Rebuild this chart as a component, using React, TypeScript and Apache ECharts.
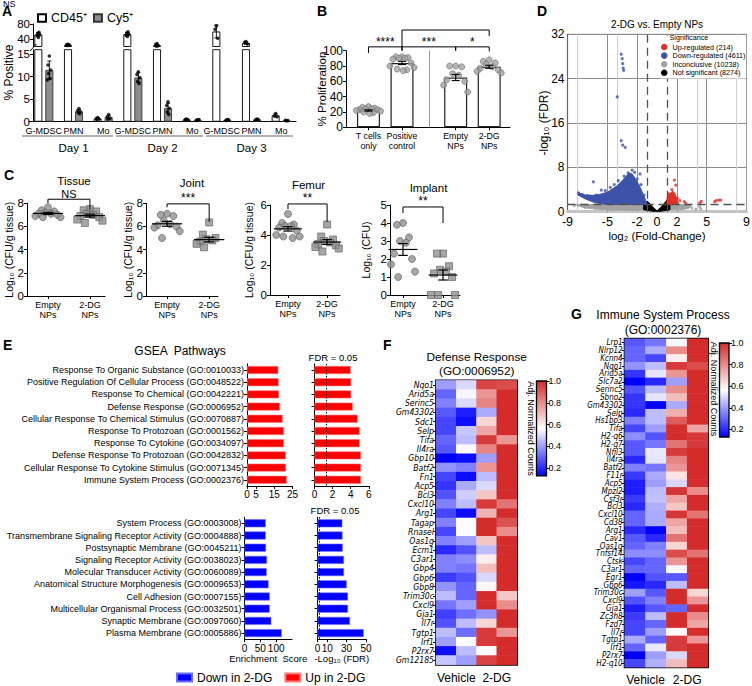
import React, { useEffect, useRef } from 'react';
import * as echarts from 'echarts';

const FONT = '"Liberation Sans", Arial, Helvetica, sans-serif';
const NARROW = '"Liberation Sans Narrow", "Arial Narrow", "DejaVu Sans Condensed", "Liberation Sans", Arial, sans-serif';
const RED = '#d42b2b';
const BLUE = '#0000ff';

/* ---------------- Panel A ---------------- */
const aCells = ['G-MDSC', 'PMN', 'Mo', 'G-MDSC', 'PMN', 'Mo', 'G-MDSC', 'PMN', 'Mo'];
const aDays = ['Day 1', 'Day 2', 'Day 3'];
const aCd45 = [52, 24, 0.7, 53, 23, 0.5, 60, 29, 1.4];
const aCy5 = [11.5, 2.3, 1.0, 9.8, 3.0, 0.4, 0.4, 0.5, 0.25];
const aCd45Dots = [
  [44, 49, 52, 55, 58],
  [26, 25, 24, 23],
  [0.9, 0.7, 0.6, 0.5],
  [47, 50, 53, 56, 59],
  [28, 25, 22, 21],
  [0.6, 0.5, 0.4, 0.5],
  [75, 66, 42],
  [33, 31, 27],
  [1.8, 1.3, 1.1],
];
const aCy5Dots = [
  [14.6, 12.6, 11.5, 10.7, 9.6, 9.3],
  [2.9, 2.5, 2.2, 2.0, 1.8],
  [1.6, 1.1, 0.8, 0.6],
  [11.1, 10.5, 9.8, 9.0, 8.5],
  [4.4, 3.6, 3.0, 2.2, 1.6],
  [0.4, 0.3, 0.5],
  [0.5, 0.3, 0.4],
  [0.6, 0.4, 0.5],
  [0.2, 0.3, 0.25],
];
const aUpperTicks = [40, 80];
const aLowerTicks = [0, 5, 10, 15];

/* ---------------- Panel B ---------------- */
const bGroups = ['T cells\nonly', 'Positive\ncontrol', 'Empty\nNPs', '2-DG\nNPs'];
const bPos = [0, 1, 2.6, 3.6];
const bMeans = [22, 84, 65, 79];
const bDots = [
  [27, 26, 25, 24, 24, 23, 23, 22, 21, 20, 19, 18],
  [92, 92, 91, 90, 90, 89, 84, 80, 78, 76, 75, 74],
  [80, 80, 79, 70, 68, 62, 60, 55, 46],
  [88, 86, 84, 82, 79, 77, 75, 73, 71],
];
const bSigText = ['****', '***', '*', ''];
const bSigFrom = [0, 1, 2.6, 1];
const bSigTo = [1, 2.6, 3.6, 3.6];
const bSigY = [105, 105, 105, 127];
const bSigDropL = [97, 100, 100, 105];
const bSigDropR = [100, 100, 99, 119];

/* ---------------- Panel C ---------------- */
const cTitles = ['Tissue', 'Joint', 'Femur', 'Implant'];
const cGroups = ['Empty\nNPs', '2-DG\nNPs'];
const cYMax = [8, 8, 6, 5];
const cYInterval = [2, 2, 2, 1];
const cYNames = ['Log₁₀ (CFU/g tissue)', 'Log₁₀ (CFU/g tissue)', 'Log₁₀ (CFU/g tissue)', 'Log₁₀ (CFU)'];
const cEmpty = [
  [7.65, 7.4, 7.3, 7.2, 7.1, 7.1, 7.0, 6.9, 6.8, 6.8],
  [7.1, 7.0, 6.9, 6.5, 6.2, 6.1, 6.0, 5.9, 5.6, 5.0],
  [5.4, 4.8, 4.7, 4.6, 4.6, 4.5, 4.3, 4.0, 3.9, 3.9, 3.8],
  [4.0, 3.9, 3.2, 3.0, 2.9, 2.3, 2.0, 1.7, 1.3, 1.0],
];
const cDG = [
  [7.5, 7.4, 7.3, 7.1, 7.0, 6.9, 6.8, 6.6, 6.5, 6.3],
  [6.35, 5.3, 5.0, 4.9, 4.8, 4.7, 4.6, 4.5, 4.3, 4.2],
  [4.7, 3.9, 3.7, 3.6, 3.5, 3.4, 3.3, 3.2, 3.1, 2.9],
  [2.3, 2.3, 1.6, 1.4, 1.3, 1.2, 1.0, 0, 0, 0],
];
const cSig = ['NS', '***', '**', '**'];
const cSigTop = [8.35, 7.95, 6.07, 4.89];
const cSigDropL = [8.0, 7.65, 5.73, 4.55];
const cSigDropR = [7.45, 6.4, 4.87, 4.0];
const cSigTextY = [8.82, 8.45, 6.45, 5.2];

/* ---------------- Panel D ---------------- */
const dXTicks = [-9, -5, -2, 0, 2, 5, 9];
const dLegend = ['Up-regulated (214)', 'Down-regulated (4611)', 'Inconclusive (10238)', 'Not significant (8274)'];
const dDownPoly = [[-7.9, 3.4], [-7.2, 3.0], [-6.5, 2.95], [-5.8, 3.1], [-5.0, 3.5], [-4.5, 4.1], [-4.0, 4.7], [-3.5, 5.6], [-3.1, 6.4], [-2.8, 7.0], [-2.5, 6.8], [-2.2, 6.0], [-1.8, 4.8], [-1.5, 3.6], [-1.2, 2.3], [-1.0, 1.5], [-1.0, 1.3], [-5.0, 1.3], [-6.2, 1.6], [-7.2, 2.3], [-7.95, 3.0]];
const dDownPts = [[-3.6, 28.4], [-3.5, 27.6], [-3.45, 26.7], [-3.4, 25.9], [-3.35, 25.5], [-4.0, 20.7], [-3.6, 12.8], [-3.45, 12.0], [-3.2, 11.6], [-6.4, 5.4], [-2.5, 7.5], [-2.25, 7.1], [-1.7, 6.8], [-5.6, 3.9], [-5.2, 3.8], [-4.7, 4.4], [-4.3, 4.9], [-3.9, 5.6], [-3.3, 6.4], [-2.9, 7.0], [-2.0, 5.9], [-1.6, 4.9], [-7.9, 3.4], [-7.5, 3.1], [-7.0, 2.9], [-6.7, 2.8], [-6.1, 3.0], [-1.3, 3.0]];
const dUpPoly = [[1.0, 1.3], [1.0, 2.4], [1.15, 3.0], [1.35, 3.4], [1.6, 3.7], [1.8, 3.3], [1.95, 2.6], [2.1, 1.8], [2.2, 1.3]];
const dUpPts = [[1.75, 5.7], [1.9, 4.8], [1.5, 4.0], [2.3, 2.0], [2.75, 1.8], [2.9, 1.5], [4.3, 1.6], [4.45, 1.85], [5.8, 1.8], [5.95, 2.0], [6.2, 2.1], [6.4, 2.1], [2.05, 2.4], [1.2, 3.2]];
const dInconLeft = [[-7.9, 1.3], [-1.0, 1.3], [-1.0, 0.35], [-2.5, 0.25], [-4.5, 0.3], [-6.0, 0.45], [-7.2, 0.7], [-7.9, 1.0]];
const dInconRight = [[1.0, 1.3], [3.0, 1.3], [3.4, 1.1], [3.2, 0.6], [2.4, 0.35], [1.0, 0.3]];
const dInconPts = [[-8.3, 1.1], [-7.2, 0.8], [-6.2, 0.6], [-5.5, 0.5], [-4.6, 0.4], [2.8, 0.8], [3.2, 1.1], [3.5, 0.7], [4.3, 0.9], [4.4, 0.5], [3.9, 0.4], [-8.0, 1.25], [-7.6, 1.2]];
const dNotSigPoly = [[-1.35, 1.3], [-1.0, 1.9], [-0.7, 1.45], [-0.35, 0.75], [0, 0.15], [0.35, 0.75], [0.7, 1.45], [1.0, 2.1], [1.3, 1.35], [1.3, 0.35], [0.7, 0.15], [0, -0.1], [-0.7, 0.15], [-1.35, 0.35]];
const dGridX = [-8, -5, -4, -2, 2, 4, 5, 8];

/* ---------------- Panel E ---------------- */
const eUpTerms = ['Response To Organic Substance (GO:0010033)', 'Positive Regulation Of Cellular Process (GO:0048522)', 'Response To Chemical (GO:0042221)', 'Defense Response (GO:0006952)', 'Cellular Response To Chemical Stimulus (GO:0070887)', 'Response To Protozoan (GO:0001562)', 'Response To Cytokine (GO:0034097)', 'Defense Response To Protozoan (GO:0042832)', 'Cellular Response To Cytokine Stimulus (GO:0071345)', 'Immune System Process (GO:0002376)'];
const eUpScore = [17.2, 17.4, 17.6, 18.1, 19.6, 20.3, 20.3, 21.3, 21.4, 21.8];
const eUpFdr = [4.0, 4.05, 4.05, 4.22, 4.77, 4.99, 4.99, 5.14, 5.14, 5.14];
const eDownTerms = ['System Process (GO:0003008)', 'Transmembrane Signaling Receptor Activity (GO:0004888)', 'Postsynaptic Membrane (GO:0045211)', 'Signaling Receptor Activity (GO:0038023)', 'Molecular Transducer Activity (GO:0060089)', 'Anatomical Structure Morphogenesis (GO:0009653)', 'Cell Adhesion (GO:0007155)', 'Multicellular Organismal Process (GO:0032501)', 'Synaptic Membrane (GO:0097060)', 'Plasma Membrane (GO:0005886)'];
const eDownScore = [67, 67, 68, 71, 70, 76, 79.6, 79.6, 84.6, 117.5];
const eDownFdr = [25.6, 25.8, 26, 27.3, 27.3, 30.1, 31.4, 31.4, 33.5, 47.6];
const eUpScoreTicks = [0, 5, 15, 25];
const eDownScoreTicks = [0, 50, 100, 150];
const eDownFdrTicks = [0, 10, 30, 50];
const eFdrCut = 1.3;

/* ---------------- Panels F & G ---------------- */
const hmGroups = ['Vehicle', '2-DG'];
const hmCols = ['V1', 'V2', 'D1', 'D2'];
const cbTicks = [0.2, 0.4, 0.6, 0.8, 1.0];
const fRows = ['Nqo1', 'Arid5a', 'Serinc5', 'Gm43302', 'Sdc1', 'Selp', 'Tifa', 'Il4ra', 'Gbp10', 'Batf2', 'Fn1', 'Acp5', 'Bcl3', 'Cxcl10', 'Arg1', 'Tagap', 'Rnasel', 'Oas1g', 'Ecm1', 'C3ar1', 'Gbp4', 'Gbp6', 'Gbp8', 'Trim30c', 'Cxcl9', 'Gja1', 'Il7r', 'Tgtp1', 'Irf1', 'P2rx7', 'Gm12185'];
const fValues = [
  [0.4, 0.5, 0.95, 0.93], [0.3, 0.55, 0.78, 1.0], [0.35, 0.5, 0.82, 1.0], [0.28, 0.18, 0.42, 1.0],
  [0.25, 0.15, 0.65, 1.0], [0.25, 0.47, 0.75, 1.0], [0.3, 0.45, 0.97, 0.78], [0.28, 0.58, 0.82, 1.0],
  [0.12, 0.15, 0.4, 1.0], [0.38, 0.35, 0.78, 1.0], [0.25, 0.15, 0.45, 1.0], [0.22, 0.42, 0.5, 1.0],
  [0.27, 0.48, 0.68, 1.0], [0.35, 0.45, 0.97, 0.85], [0.25, 0.15, 0.72, 1.0], [0.35, 0.56, 1.0, 0.92],
  [0.25, 0.56, 1.0, 0.8], [0.35, 0.4, 0.68, 1.0], [0.2, 0.27, 0.45, 1.0], [0.35, 0.37, 0.6, 1.0],
  [0.35, 0.33, 0.7, 1.0], [0.23, 0.27, 0.5, 1.0], [0.38, 0.3, 0.58, 1.0], [0.45, 0.3, 1.0, 0.68],
  [0.33, 0.4, 1.0, 0.8], [0.24, 0.32, 0.38, 1.0], [0.27, 0.45, 0.65, 1.0], [0.45, 0.32, 0.97, 0.78],
  [0.4, 0.56, 0.97, 1.0], [0.15, 0.45, 0.56, 1.0], [0.47, 0.4, 0.95, 1.0],
];
const gRows = ['Lrp1', 'Nlrp12', 'Kcnn4', 'Nqo1', 'Arid5a', 'Slc7a2', 'Serinc5', 'Sbno2', 'Gm43302', 'Selp', 'Hs1bp3', 'Tifa', 'H2-q6', 'H2-q7', 'Nfil3', 'Il4ra', 'Batf2', 'F11r', 'Acp5', 'Mpzl2', 'Csf3r', 'Bcl3', 'Cxcl10', 'Cd38', 'Arg1', 'Cav1', 'Oas1g', 'Tnfsf14', 'Ctsk', 'C3ar1', 'Egr1', 'Gbp6', 'Trim30c', 'Cxcl9', 'Gja1', 'Zc3h8', 'Fzd7', 'Il7r', 'Tgtp1', 'Irf1', 'P2rx7', 'H2-q10'];
const gValues = [
  [0.28, 0.33, 0.55, 1.0], [0.3, 0.42, 0.8, 1.0], [0.3, 0.25, 0.6, 1.0], [0.38, 0.45, 0.97, 0.93],
  [0.22, 0.52, 0.78, 1.0], [0.12, 0.2, 0.4, 1.0], [0.27, 0.45, 0.8, 1.0], [0.22, 0.52, 0.7, 1.0],
  [0.22, 0.1, 0.42, 1.0], [0.2, 0.45, 0.73, 1.0], [0.35, 0.45, 0.9, 1.0], [0.25, 0.4, 1.0, 0.75],
  [0.37, 0.27, 1.0, 0.97], [0.28, 0.33, 0.85, 0.97], [0.28, 0.53, 0.97, 1.0], [0.2, 0.52, 0.82, 1.0],
  [0.35, 0.33, 0.78, 1.0], [0.23, 0.42, 0.62, 1.0], [0.18, 0.4, 0.5, 1.0], [0.18, 0.45, 0.98, 0.8],
  [0.23, 0.46, 0.75, 1.0], [0.2, 0.43, 0.68, 1.0], [0.3, 0.42, 0.98, 0.85], [0.3, 0.42, 0.75, 1.0],
  [0.2, 0.1, 0.7, 1.0], [0.28, 0.2, 0.85, 1.0], [0.3, 0.35, 0.65, 1.0], [0.37, 0.37, 0.93, 0.85],
  [0.25, 0.3, 0.78, 1.0], [0.3, 0.3, 0.55, 1.0], [0.1, 0.27, 0.28, 1.0], [0.17, 0.2, 0.45, 1.0],
  [0.4, 0.28, 1.0, 0.65], [0.27, 0.35, 1.0, 0.78], [0.18, 0.28, 0.3, 1.0], [0.23, 0.45, 1.0, 0.8],
  [0.25, 0.3, 1.0, 0.75], [0.25, 0.4, 0.58, 1.0], [0.42, 0.3, 0.97, 0.78], [0.3, 0.53, 0.97, 1.0],
  [0.1, 0.4, 0.5, 1.0], [0.25, 0.43, 0.7, 1.0],
];

/* ---------------- helpers ---------------- */
const mean = (a: number[]) => a.reduce((s, v) => s + v, 0) / a.length;
const sd = (a: number[]) => {
  if (a.length < 2) return 0;
  const m = mean(a);
  return Math.sqrt(a.reduce((s, v) => s + (v - m) ** 2, 0) / (a.length - 1));
};
const sem = (a: number[]) => sd(a) / Math.sqrt(a.length);
const SWARM = [0, -0.5, 0.5, -0.25, 0.25, -0.75, 0.75, -1, 1, -0.4, 0.4, 0.1];
const jit = (k: number, spread: number) => SWARM[k % SWARM.length] * spread;
const nearest = (arr: number[], v: number) => {
  let b = 0;
  arr.forEach((a, i) => { if (Math.abs(a - v) < Math.abs(arr[b] - v)) b = i; });
  return b;
};

const axLine = (color = '#000', width = 1) => ({ show: true, onZero: false, lineStyle: { color, width } });
const ticks = (len = 3, extra: any = {}) => ({ show: true, length: len, lineStyle: { color: '#000', width: 1 }, ...extra });
const lbl = (size: number, extra: any = {}) => ({ show: true, color: '#000', fontSize: size, fontFamily: FONT, ...extra });
const nameStyle = (size: number) => ({ fontSize: size, color: '#000', fontFamily: FONT });
const noSplit = { show: false };

const ST = (lw = 1, color = '#000') => ({ stroke: color, lineWidth: lw });
function errRender(cap: number, lw = 1) {
  return (params: any, api: any) => {
    const x = api.value(0), m = api.value(1), e = api.value(2);
    const lo = api.coord([x, m - e]);
    const hi = api.coord([x, m + e]);
    const c = api.coord([x + cap, m])[0] - api.coord([x, m])[0];
    return {
      type: 'group',
      children: [
        { type: 'line', shape: { x1: lo[0], y1: lo[1], x2: hi[0], y2: hi[1] }, style: ST(lw) },
        { type: 'line', shape: { x1: hi[0] - c, y1: hi[1], x2: hi[0] + c, y2: hi[1] }, style: ST(lw) },
        { type: 'line', shape: { x1: lo[0] - c, y1: lo[1], x2: lo[0] + c, y2: lo[1] }, style: ST(lw) },
      ],
    };
  };
}
function meanRender(half: number, cap: number, lw = 1.2) {
  return (params: any, api: any) => {
    const x = api.value(0), m = api.value(1), e = api.value(2);
    const c = api.coord([x, m]);
    const lo = api.coord([x, m - e]);
    const hi = api.coord([x, m + e]);
    const h = api.coord([x + half, m])[0] - c[0];
    const k = api.coord([x + cap, m])[0] - c[0];
    return {
      type: 'group',
      children: [
        { type: 'line', shape: { x1: c[0] - h, y1: c[1], x2: c[0] + h, y2: c[1] }, style: ST(lw) },
        { type: 'line', shape: { x1: lo[0], y1: lo[1], x2: hi[0], y2: hi[1] }, style: ST(lw) },
        { type: 'line', shape: { x1: hi[0] - k, y1: hi[1], x2: hi[0] + k, y2: hi[1] }, style: ST(lw) },
        { type: 'line', shape: { x1: lo[0] - k, y1: lo[1], x2: lo[0] + k, y2: lo[1] }, style: ST(lw) },
      ],
    };
  };
}
function polyRender(pts: number[][], fill: string) {
  return (params: any, api: any) => {
    if (params.dataIndex !== 0) return null;
    return { type: 'polygon', shape: { points: pts.map((p) => api.coord(p)) }, style: { fill, stroke: fill, lineWidth: 1 } };
  };
}
const colorbarRender = (params: any) => {
  const cs = params.coordSys;
  return {
    type: 'rect',
    shape: { x: cs.x, y: cs.y, width: cs.width, height: cs.height },
    style: {
      fill: new echarts.graphic.LinearGradient(0, 0, 0, 1, [
        { offset: 0, color: RED },
        { offset: 0.5, color: '#ffffff' },
        { offset: 1, color: BLUE },
      ]),
      stroke: '#000',
      lineWidth: 1.3,
    },
  };
};

function buildOption() {
  const grid: any[] = [];
  const xAxis: any[] = [];
  const yAxis: any[] = [];
  const series: any[] = [];
  const idx: any = {};
  const addGrid = (g: any) => { grid.push({ outerBoundsMode: 'none', containLabel: false, ...g }); return grid.length - 1; };
  const addX = (a: any) => { xAxis.push({ nameMoveOverlap: false, ...a }); return xAxis.length - 1; };
  const addY = (a: any) => { yAxis.push({ nameMoveOverlap: false, ...a }); return yAxis.length - 1; };
  const addS = (s: any) => { series.push({ silent: true, animation: false, ...s }); return series.length - 1; };

  /* ----- A ----- */
  const aGrids = [
    { top: 24, height: 22.5, min: 20, max: 80, ticks: aUpperTicks, upper: true },
    { top: 49.7, height: 72, min: 0, max: 16, ticks: aLowerTicks, upper: false },
  ];
  aGrids.forEach((cfg) => {
    const g = addGrid({ left: 29, top: cfg.top, width: 267, height: cfg.height });
    const xc = cfg.upper
      ? addX({ type: 'category', gridIndex: g, data: aCells, show: false, position: 'bottom' })
      : addX({
          type: 'category', gridIndex: g, data: aCells, position: 'bottom',
          axisLine: axLine(), axisTick: { show: false },
          axisLabel: lbl(9, { interval: 0, margin: 5 }),
        });
    const xv = addX({ type: 'value', gridIndex: g, min: -0.5, max: 8.5, show: false, position: 'bottom' });
    if (!cfg.upper) {
      addX({
        type: 'category', gridIndex: g, data: aDays, position: 'bottom', offset: 17,
        axisLine: { show: false }, axisTick: { show: false },
        axisLabel: lbl(11.5, { interval: 0, margin: 3 }),
      });
    }
    const y = addY({
      type: 'value', gridIndex: g, min: cfg.min, max: cfg.max, offset: -4,
      axisLine: axLine(), axisTick: ticks(3, { customValues: cfg.ticks }),
      axisLabel: lbl(11.5, { margin: 3, customValues: cfg.ticks }), splitLine: noSplit,
    });
    addS({ type: 'bar', name: 'CD45⁺', xAxisIndex: xc, yAxisIndex: y, data: aCd45, barWidth: 8, barGap: '37.5%', itemStyle: { color: '#ffffff', borderColor: '#000', borderWidth: 0.9 } });
    addS({ type: 'bar', name: 'Cy5⁺', xAxisIndex: xc, yAxisIndex: y, data: aCy5, barWidth: 8, barGap: '37.5%', itemStyle: { color: '#8c8c8c', borderColor: '#333', borderWidth: 0.9 } });
    const inG = (v: number) => (cfg.upper ? v >= 20 : v < 17);
    const err: any[] = [];
    const dots: any[] = [];
    aCd45.forEach((m, i) => {
      if (inG(m)) err.push([i - 0.185, m, sd(aCd45Dots[i])]);
      aCd45Dots[i].forEach((v, k) => { if (inG(v)) dots.push([i - 0.185 + jit(k, 0.09), v]); });
    });
    aCy5.forEach((m, i) => {
      if (inG(m)) err.push([i + 0.185, m, sd(aCy5Dots[i])]);
      aCy5Dots[i].forEach((v, k) => { if (inG(v)) dots.push([i + 0.185 + jit(k, 0.09), v]); });
    });
    addS({ type: 'custom', xAxisIndex: xv, yAxisIndex: y, data: err, renderItem: errRender(0.07, 0.9), clip: true, encode: { x: 0, y: 1 }, z: 3 });
    addS({ type: 'scatter', xAxisIndex: xv, yAxisIndex: y, data: dots, symbolSize: 3.6, itemStyle: { color: '#000' }, clip: true, z: 4 });
  });

  /* ----- B ----- */
  const bG = addGrid({ left: 346, top: 50.7, width: 164, height: 76.6 });
  const bX = addX({
    type: 'value', gridIndex: bG, min: -0.67, max: 4.22, position: 'bottom',
    axisLine: axLine(), axisTick: ticks(3, { customValues: bPos }),
    axisLabel: lbl(8.8, { margin: 4, lineHeight: 10, customValues: bPos, formatter: (v: number) => bGroups[nearest(bPos, v)] }),
    splitLine: noSplit,
  });
  const bY = addY({
    type: 'value', gridIndex: bG, min: 0, max: 100, interval: 20,
    axisLine: axLine(), axisTick: ticks(3), axisLabel: lbl(12, { margin: 3 }), splitLine: noSplit,
    name: '% Proliferation', nameLocation: 'middle', nameGap: 18, nameTextStyle: nameStyle(11.5),
  });
  addS({
    type: 'bar', xAxisIndex: bX, yAxisIndex: bY, data: bPos.map((p, i) => [p, bMeans[i]]), barWidth: 23,
    itemStyle: { color: '#ffffff', borderColor: '#222', borderWidth: 1.2 },
    markLine: { silent: true, symbol: 'none', label: { show: false }, lineStyle: { color: '#9a9a9a', width: 1, type: 'solid' }, data: [{ xAxis: 1.81 }], animation: false },
  });
  idx.bScatter = addS({
    type: 'scatter', xAxisIndex: bX, yAxisIndex: bY,
    data: bDots.flatMap((arr, i) => arr.map((v, k) => [bPos[i] + jit(k, 0.36), v])),
    symbolSize: 6, itemStyle: { color: '#a3a3a3', borderColor: '#6e6e6e', borderWidth: 0.8 }, z: 3,
  });
  addS({ type: 'custom', xAxisIndex: bX, yAxisIndex: bY, data: bPos.map((p, i) => [p, bMeans[i], sem(bDots[i])]), renderItem: errRender(0.12, 1.1), encode: { x: 0, y: 1 }, z: 4 });

  /* ----- C ----- */
  const cLayout = [
    { left: 27, top: 203.3, width: 78, height: 92.7, min: 0.5, max: 2.36, gap: 12.5 },
    { left: 146, top: 203.3, width: 72, height: 92.7, min: 0.5, max: 2.21, gap: 13 },
    { left: 270, top: 205, width: 70, height: 90, min: 0.54, max: 2.33, gap: 15.5 },
    { left: 390, top: 205, width: 70, height: 90, min: 0.675, max: 2.425, gap: 18.5 },
  ];
  idx.cScatter = [];
  cLayout.forEach((L, p) => {
    const g = addGrid({ left: L.left, top: L.top, width: L.width, height: L.height });
    const x = addX({
      type: 'value', gridIndex: g, min: L.min, max: L.max, position: 'bottom',
      axisLine: axLine(), axisTick: ticks(3, { customValues: [1, 2] }),
      axisLabel: lbl(9, { margin: 4, lineHeight: 10, customValues: [1, 2], formatter: (v: number) => cGroups[nearest([1, 2], v)] }),
      splitLine: noSplit,
    });
    const y = addY({
      type: 'value', gridIndex: g, min: 0, max: cYMax[p], interval: cYInterval[p],
      axisLine: axLine(), axisTick: ticks(3), axisLabel: lbl(11.5, { margin: 3 }), splitLine: noSplit,
      name: cYNames[p], nameLocation: 'middle', nameGap: L.gap, nameTextStyle: nameStyle(10.5),
    });
    idx.cScatter.push(addS({
      type: 'scatter', xAxisIndex: x, yAxisIndex: y, symbol: 'circle', symbolSize: 7,
      data: cEmpty[p].map((v, k) => [1 + jit(k, 0.3), v]),
      itemStyle: { color: '#909090', borderColor: '#5c5c5c', borderWidth: 0.8 }, z: 3,
    }));
    addS({
      type: 'scatter', xAxisIndex: x, yAxisIndex: y, symbol: 'rect', symbolSize: 7,
      data: cDG[p].map((v, k) => [2 + jit(k, 0.3), v]),
      itemStyle: { color: '#909090', borderColor: '#5c5c5c', borderWidth: 0.8 }, z: 3,
    });
    addS({
      type: 'custom', xAxisIndex: x, yAxisIndex: y,
      data: [[1, mean(cEmpty[p]), sem(cEmpty[p])], [2, mean(cDG[p]), sem(cDG[p])]],
      renderItem: meanRender(0.36, 0.12, 1.2), encode: { x: 0, y: 1 }, z: 5,
    });
  });

  /* ----- D ----- */
  const dG = addGrid({ left: 567.5, top: 34.3, width: 179, height: 177.4, show: true, borderColor: '#9a9a9a', borderWidth: 1, backgroundColor: 'transparent' });
  const dX = addX({
    type: 'value', gridIndex: dG, min: -9, max: 9, position: 'bottom',
    axisLine: axLine('#c4c4c4', 3), axisTick: { show: false },
    axisLabel: lbl(12.5, { margin: 4, customValues: dXTicks }), splitLine: noSplit,
    name: 'log₂ (Fold-Change)', nameLocation: 'middle', nameGap: 18, nameTextStyle: nameStyle(11.5),
  });
  const dY = addY({
    type: 'value', gridIndex: dG, min: 0, max: 32, interval: 8,
    axisLine: axLine('#666', 1.2), axisTick: { show: false }, axisLabel: lbl(12, { margin: 3 }),
    splitLine: { show: true, lineStyle: { color: '#8a8a8a', width: 1 } },
    name: '-log₁₀ (FDR)', nameLocation: 'middle', nameGap: 18, nameTextStyle: nameStyle(12),
  });
  const dCommon = { xAxisIndex: dX, yAxisIndex: dY, clip: true, encode: { x: 0, y: 1 } };
  addS({
    ...dCommon, type: 'custom', name: dLegend[2], data: dInconLeft, renderItem: polyRender(dInconLeft, '#a2a2a2'),
    itemStyle: { color: '#a2a2a2' }, z: 2,
    markLine: {
      silent: true, symbol: 'none', label: { show: false }, z: 1, animation: false,
      data: dGridX.map((v) => ({ xAxis: v, lineStyle: { color: Math.abs(v) === 4 || Math.abs(v) === 8 ? '#cfcfcf' : '#8f8f8f', width: 1, type: 'solid' } })),
    },
  });
  addS({ ...dCommon, type: 'custom', name: dLegend[2], data: dInconRight, renderItem: polyRender(dInconRight, '#a2a2a2'), itemStyle: { color: '#a2a2a2' }, z: 2 });
  addS({ ...dCommon, type: 'scatter', name: dLegend[2], data: dInconPts, symbolSize: 3.2, itemStyle: { color: '#a2a2a2' }, z: 2 });
  addS({ ...dCommon, type: 'custom', name: dLegend[3], data: dNotSigPoly, renderItem: polyRender(dNotSigPoly, '#000000'), itemStyle: { color: '#000000' }, z: 2 });
  addS({ ...dCommon, type: 'custom', name: dLegend[1], data: dDownPoly, renderItem: polyRender(dDownPoly, '#3d52a9'), itemStyle: { color: '#3d52a9' }, z: 2 });
  addS({ ...dCommon, type: 'scatter', name: dLegend[1], data: dDownPts, symbolSize: 3.2, itemStyle: { color: '#3d52a9' }, z: 2 });
  addS({ ...dCommon, type: 'custom', name: dLegend[0], data: dUpPoly, renderItem: polyRender(dUpPoly, '#e0302a'), itemStyle: { color: '#e0302a' }, z: 2 });
  addS({
    ...dCommon, type: 'scatter', name: dLegend[0], data: dUpPts, symbolSize: 3.2, itemStyle: { color: '#e0302a' }, z: 2,
    markLine: {
      silent: true, symbol: 'none', label: { show: false }, z: 3, animation: false,
      lineStyle: { color: '#505050', width: 1.3, type: [8, 5] },
      data: [{ xAxis: -1 }, { xAxis: 1 }, { yAxis: 1.3 }],
    },
  });

  /* ----- E ----- */
  const eCfg = [
    { left: 247, top: 363.9, width: 45.5, terms: eUpTerms, vals: eUpScore, max: 25, ticks: eUpScoreTicks, labels: true, name: 'Up in 2-DG', color: '#ff0000', border: '#ff7a7a', cut: false, axisName: '' },
    { left: 314.5, top: 363.9, width: 54.3, terms: eUpTerms, vals: eUpFdr, max: 6, ticks: [0, 2, 4, 6], labels: false, name: 'Up in 2-DG', color: '#ff0000', border: '#ff7a7a', cut: true, axisName: '' },
    { left: 244.5, top: 517.2, width: 47.5, terms: eDownTerms, vals: eDownScore, max: 150, ticks: eDownScoreTicks, labels: true, name: 'Down in 2-DG', color: '#0000ff', border: '#6a6aff', cut: false, axisName: 'Enrichment  Score' },
    { left: 317.5, top: 517.2, width: 48.5, terms: eDownTerms, vals: eDownFdr, max: 50, ticks: eDownFdrTicks, labels: false, name: 'Down in 2-DG', color: '#0000ff', border: '#6a6aff', cut: true, axisName: '-Log₁₀ (FDR)' },
  ];
  eCfg.forEach((c) => {
    const g = addGrid({ left: c.left, top: c.top, width: c.width, height: 122 });
    const x = addX({
      type: 'value', gridIndex: g, min: 0, max: c.max, position: 'bottom',
      axisLine: axLine(), axisTick: ticks(3, { customValues: c.ticks }),
      axisLabel: lbl(10, { margin: 4, customValues: c.ticks }), splitLine: noSplit,
      name: c.axisName, nameLocation: 'middle', nameGap: 14, nameTextStyle: nameStyle(9.5),
    });
    const y = addY({
      type: 'category', gridIndex: g, data: c.terms, inverse: true,
      axisLine: axLine(), axisTick: ticks(3, { alignWithLabel: true, interval: 0 }),
      axisLabel: c.labels ? lbl(9, { margin: 3, interval: 0 }) : { show: false },
    });
    addS({
      type: 'bar', name: c.name, xAxisIndex: x, yAxisIndex: y, data: c.vals, barWidth: 8,
      itemStyle: { color: c.color, borderColor: c.border, borderWidth: 0.6 },
      markLine: c.cut ? {
        silent: true, symbol: 'none', label: { show: false }, animation: false,
        lineStyle: { color: '#000', width: 1, type: [1.5, 1.5] }, data: [{ xAxis: eFdrCut }],
      } : undefined,
    });
  });

  /* ----- F & G heatmaps ----- */
  const hm = [
    { left: 436, top: 380.4, width: 81, height: 284.3, rows: fRows, vals: fValues, font: 8.6, cb: { left: 536.5, top: 381, width: 10, height: 94.8 } },
    { left: 624.7, top: 338.8, width: 83.3, height: 328.4, rows: gRows, vals: gValues, font: 8, cb: { left: 719.5, top: 343, width: 9.5, height: 94 } },
  ];
  const heatIdx: number[] = [];
  hm.forEach((h) => {
    const g = addGrid({ left: h.left, top: h.top, width: h.width, height: h.height, show: true, borderColor: '#000', borderWidth: 2, backgroundColor: 'transparent' });
    const x = addX({ type: 'category', gridIndex: g, data: hmCols, show: false, position: 'bottom' });
    addX({
      type: 'category', gridIndex: g, data: hmGroups, position: 'bottom',
      axisLine: { show: false }, axisTick: { show: false }, axisLabel: lbl(12, { margin: 7, interval: 0 }),
    });
    const y = addY({
      type: 'category', gridIndex: g, data: h.rows, inverse: true,
      axisLine: { show: false }, axisTick: ticks(3, { alignWithLabel: true, interval: 0 }),
      axisLabel: lbl(h.font, { fontStyle: 'italic', fontFamily: NARROW, margin: 2, interval: 0 }),
    });
    heatIdx.push(addS({
      type: 'heatmap', xAxisIndex: x, yAxisIndex: y,
      data: h.vals.flatMap((r, i) => r.map((v, j) => [j, i, v])),
      itemStyle: { borderWidth: 0 }, emphasis: { disabled: true },
    }));
    const cg = addGrid({ left: h.cb.left, top: h.cb.top, width: h.cb.width, height: h.cb.height });
    const cx = addX({ type: 'category', gridIndex: cg, data: ['c'], show: false, position: 'bottom' });
    const cy = addY({
      type: 'value', gridIndex: cg, min: 0.13, max: 1.0, position: 'right',
      axisLine: { show: false }, axisTick: ticks(3, { customValues: cbTicks }),
      axisLabel: lbl(9, { margin: 2, customValues: cbTicks, formatter: (v: number) => v.toFixed(1) }),
      splitLine: noSplit,
    });
    addS({ type: 'custom', xAxisIndex: cx, yAxisIndex: cy, data: [[0, 0.5]], renderItem: colorbarRender, encode: { x: 0, y: 1 } });
  });

  const option: any = {
    animation: false,
    backgroundColor: '#ffffff',
    textStyle: { fontFamily: FONT },
    grid, xAxis, yAxis, series,
    legend: [
      {
        data: ['CD45⁺', 'Cy5⁺'], left: 37, top: 11.5, itemWidth: 8, itemHeight: 7.5, itemGap: 6, icon: 'rect',
        selectedMode: false, padding: 0, textStyle: { fontSize: 12.5, color: '#000', fontFamily: FONT },
      },
      {
        data: dLegend, orient: 'vertical', left: 661, top: 43.5, itemWidth: 6.5, itemHeight: 6.5, itemGap: 1.6,
        icon: 'circle', selectedMode: false, padding: 0,
        textStyle: { fontSize: 7.2, color: '#000', fontFamily: FONT },
      },
      {
        data: ['Down in 2-DG', 'Up in 2-DG'], left: 176, top: 671.5, itemWidth: 15, itemHeight: 8, itemGap: 12,
        icon: 'rect', selectedMode: false, padding: 0, textStyle: { fontSize: 12, color: '#000', fontFamily: FONT },
      },
    ],
    visualMap: [
      { type: 'continuous', show: false, min: 0.13, max: 1.0, dimension: 2, seriesIndex: heatIdx, inRange: { color: [BLUE, '#ffffff', RED] } },
    ],
  };
  return { option, idx };
}

function buildGraphic(chart: any, idx: any) {
  const els: any[] = [];
  const T = (x: number, y: number, text: string, size: number, o: any = {}) => {
    els.push({
      type: 'text', x, y, rotation: o.rot || 0, silent: true, z: 100,
      style: {
        text, fontSize: size, fontFamily: FONT, fontWeight: o.bold ? 'bold' : 'normal',
        fill: '#000', align: o.align || 'center', verticalAlign: o.va || 'middle',
        textAlign: o.align || 'center', textVerticalAlign: o.va || 'middle',
      },
    });
  };
  const PL = (pts: number[][], color = '#000', lw = 1) => {
    els.push({ type: 'polyline', silent: true, z: 100, shape: { points: pts }, style: { stroke: color, lineWidth: lw, fill: null } });
  };
  const P = (si: number, x: number, y: number) => chart.convertToPixel({ seriesIndex: si }, [x, y]);
  const bracket = (si: number, x1: number, x2: number, yt: number, yl: number, yr: number, text: string, ty: number, size: number) => {
    PL([P(si, x1, yl), P(si, x1, yt), P(si, x2, yt), P(si, x2, yr)], '#000', 1);
    if (text) {
      const t = P(si, (x1 + x2) / 2, ty);
      T(t[0], t[1], text, size);
    }
  };

  // panel letters
  [['A', 2, 4], ['B', 317, 4], ['C', 4, 168], ['D', 537, 4], ['E', 3, 338], ['F', 383, 338], ['G', 571, 307]].forEach(([s, x, y]) =>
    T(x as number, y as number, s as string, 14, { bold: true, align: 'left', va: 'top' }));
  T(3, -1, 'NS', 9, { align: 'left', va: 'top' });

  // A
  T(8.5, 72.5, '% Positive', 12, { rot: Math.PI / 2 });
  els.push({ type: 'line', silent: true, z: 100, shape: { x1: 30, y1: 51, x2: 36.5, y2: 44 }, style: { stroke: '#000', lineWidth: 1 } });
  [[22, 113], [116, 203], [206, 293]].forEach(([a, b]) => PL([[a, 136], [b, 136]], '#9a9a9a', 1.3));

  // B brackets
  bSigText.forEach((t, i) => bracket(idx.bScatter, bSigFrom[i], bSigTo[i], bSigY[i], bSigDropL[i], bSigDropR[i], t, 112, 12));

  // C titles and brackets
  [[74, 180.5], [192, 183], [308.5, 185], [428.5, 188]].forEach(([x, y], i) => T(x, y, cTitles[i], 11.5));
  cSig.forEach((t, i) => bracket(idx.cScatter[i], 1, 2, cSigTop[i], cSigDropL[i], cSigDropR[i], t, cSigTextY[i], t === 'NS' ? 11 : 12));

  // D
  T(657, 24, '2-DG vs. Empty NPs', 10);
  els.push({ type: 'rect', silent: true, z: 3.5, shape: { x: 660, y: 35.5, width: 85.5, height: 43 }, style: { fill: '#ffffff' } });
  T(669.5, 37.5, 'Significance', 7.2, { align: 'left' });

  // E
  T(180, 351, 'GSEA  Pathways', 12);
  T(333, 357.5, 'FDR = 0.05', 9.5);
  T(335, 510.5, 'FDR = 0.05', 9.5);

  // F
  T(476.7, 357.3, 'Defense Response', 11.8);
  T(476.7, 371.2, '(GO:0006952)', 11.8);
  T(530.5, 428.5, 'Adj. Normalized Counts', 9, { rot: -Math.PI / 2 });

  // G
  T(663, 315, 'Immune System Process', 12);
  T(663, 329.5, '(GO:0002376)', 12);
  T(714, 389, 'Adj. Normalized Counts', 9, { rot: -Math.PI / 2 });

  return els;
}

export default function App() {
  const ref = useRef<HTMLDivElement>(null);
  useEffect(() => {
    if (!ref.current) return;
    const chart = echarts.init(ref.current, null, { renderer: 'svg' });
    const { option, idx } = buildOption();
    chart.setOption(option);
    chart.setOption({ graphic: buildGraphic(chart, idx) });
    return () => chart.dispose();
  }, []);
  return <div ref={ref} style={{ position: 'absolute', left: 0, top: 0, width: 752, height: 686, background: '#fff' }} />;
}
